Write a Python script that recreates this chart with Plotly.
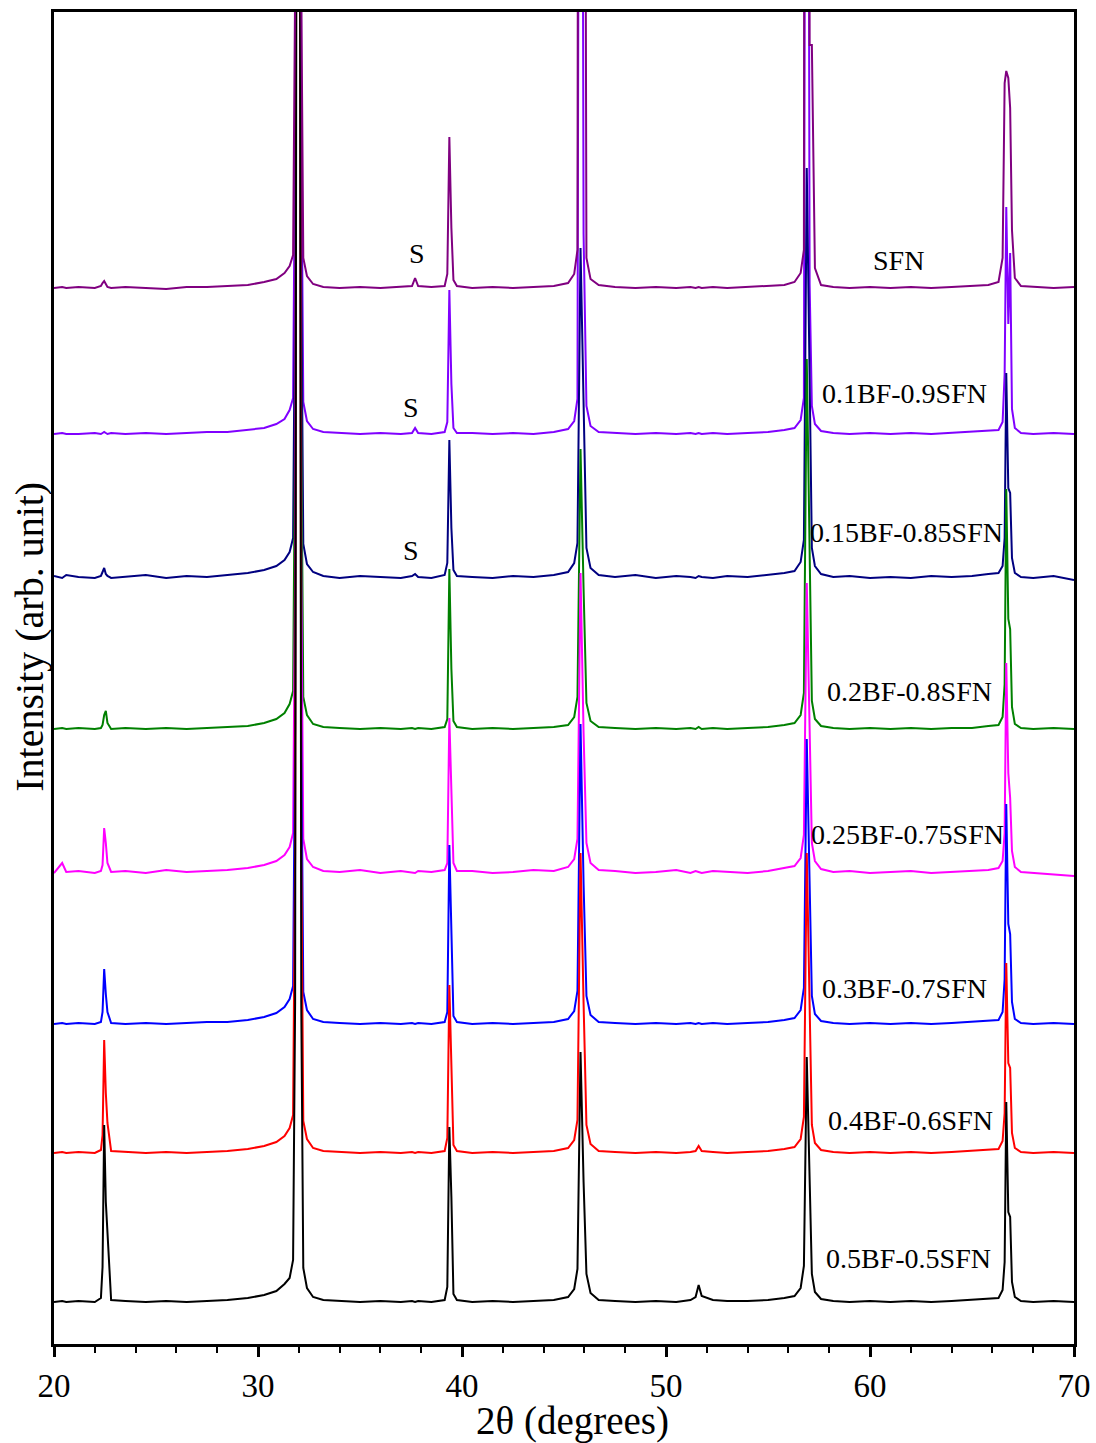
import plotly.graph_objects as go

# 2-theta sampling grid (degrees), grouped by region
two_theta = (
    [20.0, 20.4, 20.6, 21.2, 22.0, 22.3, 22.38, 22.46, 22.54, 22.62, 22.8]
    + [23.5, 24.5, 25.5, 26.5, 27.5, 28.5, 29.5, 30.3, 30.9, 31.3]
    + [31.55, 31.72, 31.82, 31.97, 32.12, 32.22, 32.4, 32.7, 33.2]
    + [34.0, 35.0, 36.0, 37.0, 37.55, 37.7, 37.85, 38.5]
    + [39.15, 39.28, 39.38, 39.48, 39.58, 39.75]
    + [40.5, 41.5, 42.5, 43.5, 44.5, 45.2, 45.5]
    + [45.66, 45.81, 45.96, 46.1, 46.3, 46.7]
    + [47.5, 48.5, 49.5, 50.5, 51.2, 51.45, 51.6, 51.75, 52.3, 53.0, 54.0, 55.0, 55.8, 56.3]
    + [56.6, 56.76, 56.9, 57.04, 57.15, 57.3, 57.6, 58.2]
    + [59.0, 60.0, 61.0, 62.0, 63.0, 64.0, 65.0, 65.8, 66.3, 66.5]
    + [66.6, 66.68, 66.78, 66.87, 66.96, 67.1, 67.4]
    + [68.0, 69.0, 70.0]
)

# Intensities (arb. unit, above each pattern's own baseline)
sfn = (
    [0, 1, 0, 1, 0, 2, 5, 7, 4, 1, 0]
    + [1, 0, -1, 1, 1, 2, 3, 6, 9, 15]
    + [22, 33, 300, 3000, 300, 30, 12, 4, 1]
    + [0, 1, 0, 1, 2, 10, 2, 1]
    + [2, 14, 151, 60, 8, 2]
    + [0, 1, 0, 1, 2, 5, 14]
    + [38, 2500, 1200, 30, 9, 3]
    + [1, 0, 1, 0, 1, 0, 1, 0, 1, 0, 1, 2, 3, 6]
    + [15, 38, 3000, 243, 243, 20, 3, 1]
    + [0, 1, 0, 1, 0, 1, 2, 3, 6, 30]
    + [205, 217, 210, 180, 58, 10, 2]
    + [1, 0, 1]
)
bf10 = (
    [0, 1, 0, 0, 1, 0, 1, 2, 1, 0, 1]
    + [0, 1, 0, 1, 2, 2, 4, 6, 10, 15]
    + [24, 36, 300, 3000, 300, 32, 13, 5, 2]
    + [1, 0, 1, 0, 1, 6, 1, 0]
    + [2, 12, 144, 50, 6, 1]
    + [1, 0, 1, 0, 2, 5, 13]
    + [35, 1500, 200, 28, 8, 2]
    + [1, 0, 1, 0, 1, 0, 1, 0, 1, 0, 1, 2, 4, 6]
    + [14, 36, 1500, 150, 28, 10, 3, 1]
    + [0, 1, 0, 1, 0, 1, 2, 3, 4, 12]
    + [60, 227, 110, 181, 25, 6, 1]
    + [0, 1, 0]
)
bf15 = (
    [2, 0, 3, 1, 0, 2, 6, 10, 4, 2, 0]
    + [1, 3, 0, 2, 1, 3, 5, 8, 12, 18]
    + [26, 40, 300, 3000, 300, 34, 14, 6, 2]
    + [0, 2, 1, 0, 2, 4, 1, 0]
    + [3, 15, 138, 50, 8, 2]
    + [1, 0, 2, 1, 3, 6, 15]
    + [35, 330, 160, 30, 10, 3]
    + [1, 3, 0, 2, 1, 0, 2, 1, 0, 2, 1, 3, 5, 7]
    + [16, 38, 410, 200, 30, 12, 4, 1]
    + [2, 0, 1, 0, 2, 1, 2, 4, 5, 12]
    + [40, 205, 90, 85, 20, 5, 1]
    + [0, 2, -2]
)
bf20 = (
    [0, 1, 0, 1, 0, 1, 4, 14, 18, 6, 0]
    + [1, 0, 1, 0, 1, 2, 3, 6, 10, 16]
    + [25, 38, 300, 3000, 300, 32, 14, 5, 2]
    + [1, 0, 1, 0, 1, 0, 1, 0]
    + [2, 10, 160, 60, 8, 2]
    + [0, 1, 0, 1, 2, 4, 12]
    + [32, 280, 140, 26, 8, 2]
    + [1, 0, 1, 0, 1, 0, 2, 0, 1, 0, 1, 2, 4, 6]
    + [14, 36, 370, 180, 28, 10, 3, 1]
    + [0, 1, 0, 1, 0, 1, 1, 3, 4, 12]
    + [45, 240, 110, 100, 22, 5, 1]
    + [0, 1, 0]
)
bf25 = (
    [0, 10, 1, 2, 0, 2, 8, 45, 30, 10, 1]
    + [2, 0, 3, 1, 2, 3, 5, 8, 12, 18]
    + [26, 40, 300, 3000, 300, 34, 14, 6, 2]
    + [1, 3, 0, 2, 1, 0, 2, 1]
    + [3, 10, 155, 70, 10, 2]
    + [2, 0, 1, 3, 2, 6, 14]
    + [34, 300, 140, 30, 10, 3]
    + [2, 0, 1, 3, 0, 2, 1, 0, 2, 1, 0, 2, 5, 7]
    + [15, 38, 290, 150, 30, 12, 4, 1]
    + [2, 0, 1, 2, 0, 1, 2, 3, 5, 12]
    + [40, 210, 100, 75, 22, 6, 1]
    + [0, -1, -3]
)
bf30 = (
    [0, 1, 0, 1, 0, 2, 12, 55, 30, 12, 1]
    + [0, 1, 0, 1, 2, 2, 4, 7, 11, 17]
    + [25, 38, 300, 3000, 300, 32, 14, 5, 2]
    + [1, 0, 1, 0, 1, 0, 1, 0]
    + [2, 12, 179, 80, 8, 2]
    + [0, 1, 0, 1, 2, 5, 13]
    + [33, 300, 140, 28, 9, 2]
    + [1, 0, 1, 0, 1, 0, 1, 0, 1, 0, 1, 2, 4, 6]
    + [14, 36, 285, 130, 28, 10, 3, 1]
    + [0, 1, 0, 1, 0, 1, 2, 3, 4, 12]
    + [45, 220, 100, 90, 22, 5, 1]
    + [0, 1, 0]
)
bf40 = (
    [0, 1, 0, 1, 0, 3, 18, 113, 60, 30, 2]
    + [1, 0, 1, 0, 1, 2, 4, 7, 11, 17]
    + [25, 38, 300, 3000, 300, 32, 14, 5, 2]
    + [1, 0, 1, 0, 1, 0, 1, 0]
    + [2, 15, 168, 90, 8, 2]
    + [0, 1, 0, 1, 2, 5, 13]
    + [33, 300, 150, 28, 9, 2]
    + [1, 0, 1, 0, 1, 2, 7, 2, 1, 0, 1, 2, 4, 6]
    + [14, 36, 300, 140, 28, 10, 3, 1]
    + [0, 1, 0, 1, 0, 1, 2, 3, 4, 12]
    + [40, 190, 90, 85, 20, 5, 1]
    + [0, 1, 0]
)
bf50 = (
    [0, 1, 0, 1, 0, 4, 35, 177, 100, 70, 2]
    + [1, 0, 1, 0, 1, 2, 4, 7, 11, 18]
    + [24, 42, 300, 3000, 300, 34, 14, 5, 2]
    + [1, 0, 1, 0, 1, 0, 1, 0]
    + [2, 15, 175, 105, 8, 2]
    + [0, 1, 0, 1, 2, 5, 13]
    + [33, 250, 120, 28, 9, 2]
    + [1, 0, 1, 0, 2, 5, 17, 6, 2, 1, 1, 2, 4, 6]
    + [14, 36, 245, 110, 28, 10, 3, 1]
    + [0, 1, 0, 1, 0, 1, 2, 3, 4, 12]
    + [40, 200, 90, 85, 20, 5, 1]
    + [0, 1, 0]
)

names = ["SFN", "0.1BF-0.9SFN", "0.15BF-0.85SFN", "0.2BF-0.8SFN",
         "0.25BF-0.75SFN", "0.3BF-0.7SFN", "0.4BF-0.6SFN", "0.5BF-0.5SFN"]
series = [sfn, bf10, bf15, bf20, bf25, bf30, bf40, bf50]
offsets = [1056, 910, 766, 615, 471, 320, 191, 42]
colors = ["#800080", "#8000FF", "#000080", "#008000",
          "#FF00FF", "#0000FF", "#FF0000", "#000000"]
draw_order = [1, 2, 3, 4, 5, 6, 7, 0]

label_x = [61.4, 61.7, 61.8, 61.95, 61.85, 61.7, 62.0, 61.9]
label_y = [1084, 951, 812, 653, 510, 356, 224, 86]

s_x = [37.8, 37.5, 37.5]
s_y = [1091, 937, 794]

x_ticks = [20, 30, 40, 50, 60, 70]

FONT = "Liberation Serif, Times New Roman, serif"

fig = go.Figure()
for i in draw_order:
    fig.add_trace(go.Scatter(
        x=two_theta, y=[offsets[i] + v for v in series[i]], mode="lines", name=names[i],
        line=dict(color=colors[i], width=2), showlegend=False,
    ))

for name, lx, ly in zip(names, label_x, label_y):
    fig.add_annotation(x=lx, y=ly, xref="x", yref="y", text=name, showarrow=False,
                       xanchor="center", yanchor="middle",
                       font=dict(family=FONT, size=28, color="black"))
for sx, sy in zip(s_x, s_y):
    fig.add_annotation(x=sx, y=sy, xref="x", yref="y", text="S", showarrow=False,
                       xanchor="center", yanchor="middle",
                       font=dict(family=FONT, size=28, color="black"))

fig.add_annotation(x=0.508, y=-0.0575, xref="paper", yref="paper", text="2θ (degrees)",
                   xanchor="center", yanchor="middle",
                   showarrow=False, font=dict(family=FONT, size=39, color="black"))
fig.add_annotation(x=-0.0235, y=0.531, xref="paper", yref="paper", text="Intensity (arb. unit)",
                   xanchor="center", yanchor="middle",
                   textangle=-90, showarrow=False, font=dict(family=FONT, size=40, color="black"))

fig.update_layout(
    width=1096, height=1443,
    margin=dict(l=54, r=22, t=12, b=99),
    paper_bgcolor="white", plot_bgcolor="white",
    font=dict(family=FONT, color="black"),
    xaxis=dict(
        range=[20, 70], tickvals=x_ticks, ticktext=[str(t) for t in x_ticks],
        ticks="outside", ticklen=10, tickwidth=2.5, tickcolor="black",
        minor=dict(dtick=2, tick0=20, ticks="outside", ticklen=6, tickwidth=2, tickcolor="black"),
        showline=True, linewidth=3, linecolor="black", mirror=True,
        showgrid=False, zeroline=False, automargin=False,
        tickfont=dict(family=FONT, size=33, color="black"),
    ),
    yaxis=dict(
        range=[0, 1332], showticklabels=False, ticks="",
        showline=True, linewidth=3, linecolor="black", mirror=True,
        showgrid=False, zeroline=False, automargin=False,
    ),
)

fig.write_html(
    "out.html",
    config={"displayModeBar": False},
    post_script="document.body.style.margin='0';document.body.style.overflow='hidden';",
)
